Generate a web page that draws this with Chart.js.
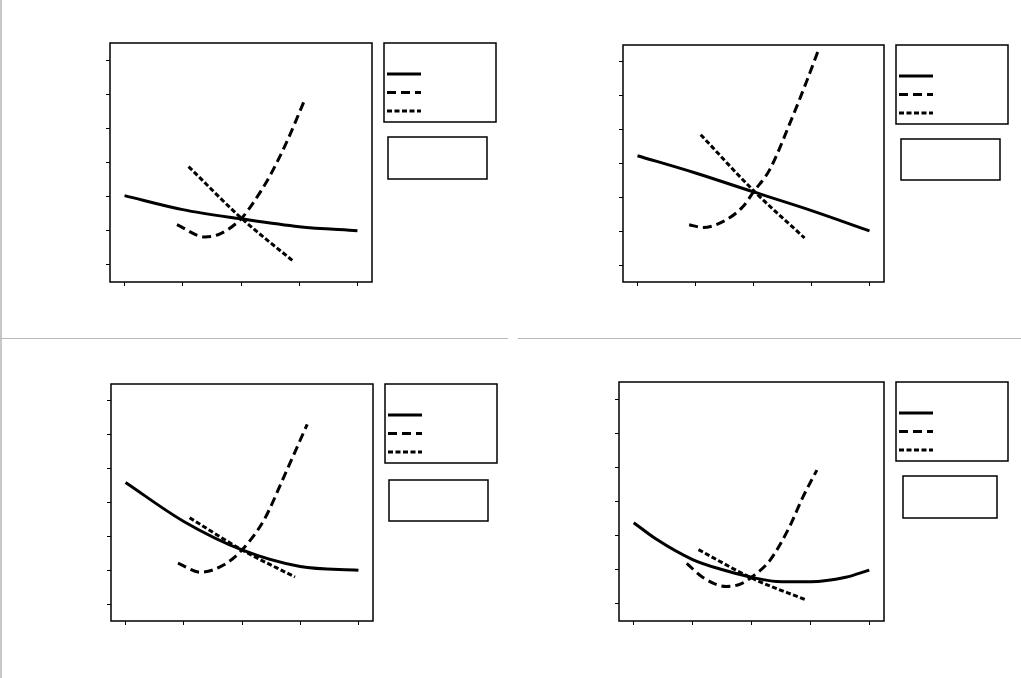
<!DOCTYPE html>
<html>
<head>
<meta charset="utf-8">
<script src="https://cdn.jsdelivr.net/npm/chart.js@4.4.1/dist/chart.umd.min.js"></script>
<style>
body { margin: 0; background: #fff; }
#wrap { position: relative; width: 1021px; height: 678px; overflow: hidden; }
canvas { position: absolute; }
.vline { position: absolute; left: 0; top: 0; width: 2px; height: 678px; background: #c8c8c8; }
.hline { position: absolute; top: 338px; height: 1px; background: #b8b8b8; }
</style>
</head>
<body>
<div id="wrap">
  <canvas id="c1" width="510" height="338" style="left:0;top:0"></canvas>
  <canvas id="c2" width="510" height="338" style="left:511px;top:0"></canvas>
  <canvas id="c3" width="510" height="339" style="left:0;top:339px"></canvas>
  <canvas id="c4" width="510" height="339" style="left:511px;top:339px"></canvas>
  <div class="vline"></div>
  <div class="hline" style="left:0;width:508px"></div>
  <div class="hline" style="left:518px;width:503px"></div>
</div>
<script>
// 目盛りの位置(ラベルは無し)
const xTicks = [0, 1, 2, 3, 4];
const yTicks = [0, 1, 2, 3, 4, 5, 6];

// パネル1(左上)
const solidX1 = [0, 1, 2, 3, 4];
const solidY1 = [2.03, 1.62, 1.35, 1.12, 1.0];
const longX1 = [0.9, 1.38, 1.64, 2, 2.21, 2.5, 2.79, 3.09];
const longY1 = [1.18, 0.82, 0.91, 1.35, 1.82, 2.62, 3.62, 4.82];
const shortX1 = [1.1, 2, 2.91];
const shortY1 = [2.88, 1.38, 0.09];

// パネル2(右上)
const solidX2 = [0, 1, 2, 3, 4];
const solidY2 = [3.23, 2.72, 2.16, 1.61, 1.01];
const longX2 = [0.89, 1.13, 1.48, 1.82, 2, 2.28, 2.63, 2.91, 3.13];
const longY2 = [1.19, 1.11, 1.29, 1.73, 2.16, 2.82, 4.2, 5.4, 6.4];
const shortX2 = [1.09, 2, 2.88];
const shortY2 = [3.85, 2.2, 0.8];

// パネル3(左下)
const solidX3 = [0, 1, 2, 3, 4];
const solidY3 = [3.59, 2.44, 1.6, 1.11, 1.0];
const longX3 = [0.9, 1.29, 1.69, 2, 2.38, 2.72, 3.12];
const longY3 = [1.21, 0.94, 1.16, 1.6, 2.49, 3.76, 5.31];
const shortX3 = [1.1, 2, 2.91];
const shortY3 = [2.55, 1.6, 0.8];

// パネル4(右下)
const solidX4 = [0, 0.38, 1, 1.51, 2, 2.42, 3, 3.6, 4];
const solidY4 = [2.38, 1.9, 1.3, 1.0, 0.78, 0.66, 0.65, 0.78, 0.99];
const longX4 = [0.9, 1.17, 1.57, 1.81, 2, 2.31, 2.64, 2.87, 3.11];
const longY4 = [1.19, 0.78, 0.51, 0.58, 0.78, 1.27, 2.24, 3.12, 3.92];
const shortX4 = [1.1, 2, 2.92];
const shortY4 = [1.59, 0.76, 0.12];

const LONG_DASH = [9, 5];
const SHORT_DASH = [5, 2.5];

function makeSet(xs, ys, dash) {
    return {
        label: '',
        data: xs.map((x, i) => ({ x: x, y: ys[i] })),
        borderColor: '#000',
        borderWidth: 3,
        borderDash: dash,
        pointRadius: 0,
        fill: false,
        cubicInterpolationMode: 'monotone'
    };
}

// 枠線と凡例の箱を描くプラグイン
const framePlugin = {
    id: 'frameBox',
    afterDraw(chart, args, opts) {
        const ctx = chart.ctx;
        const a = chart.chartArea;
        ctx.save();
        ctx.strokeStyle = '#000';
        ctx.lineWidth = 1.5;
        ctx.setLineDash([]);
        ctx.strokeRect(a.left, a.top, a.right - a.left, a.bottom - a.top);

        // 凡例
        const lx = a.right + 12, ly = a.top + opts.legendDy;
        ctx.strokeRect(lx, ly, 112, 79);
        const rows = [31, 49.5, 68];
        chart.data.datasets.forEach((ds, i) => {
            ctx.beginPath();
            ctx.lineWidth = ds.borderWidth;
            ctx.setLineDash(ds.borderDash || []);
            ctx.moveTo(lx + 3, ly + rows[i]);
            ctx.lineTo(lx + 37, ly + rows[i]);
            ctx.stroke();
        });

        // 下の空の箱
        ctx.setLineDash([]);
        ctx.lineWidth = 1.5;
        const b = opts.box2;
        ctx.strokeRect(lx + b[0], ly + b[1], b[2], b[3]);
        ctx.restore();
    }
};

function makeChart(id, sets, pad, legendDy, box2) {
    const axisGrid = { drawOnChartArea: false, drawTicks: true, tickLength: 4, color: '#000', lineWidth: 1 };
    return new Chart(document.getElementById(id), {
        type: 'line',
        data: { datasets: sets },
        options: {
            responsive: false,
            animation: false,
            layout: { padding: pad },
            plugins: {
                legend: { display: false },
                tooltip: { enabled: false },
                frameBox: { legendDy: legendDy, box2: box2 }
            },
            scales: {
                x: {
                    type: 'linear', min: -0.25, max: 4.25,
                    afterBuildTicks: s => { s.ticks = xTicks.map(v => ({ value: v })); },
                    afterFit: s => { s.height = 4; },
                    ticks: { display: false },
                    grid: axisGrid,
                    border: { display: false }
                },
                y: {
                    type: 'linear', min: -0.5, max: 6.5,
                    afterBuildTicks: s => { s.ticks = yTicks.map(v => ({ value: v })); },
                    afterFit: s => { s.width = 4; },
                    ticks: { display: false },
                    grid: axisGrid,
                    border: { display: false }
                }
            }
        },
        plugins: [framePlugin]
    });
}

const chart1 = makeChart('c1', [
    makeSet(solidX1, solidY1, []),
    makeSet(longX1, longY1, LONG_DASH),
    makeSet(shortX1, shortY1, SHORT_DASH)
], { left: 106, top: 43, right: 138, bottom: 52 }, 0, [4, 94, 99, 42]);

const chart2 = makeChart('c2', [
    makeSet(solidX2, solidY2, []),
    makeSet(longX2, longY2, LONG_DASH),
    makeSet(shortX2, shortY2, SHORT_DASH)
], { left: 108, top: 45, right: 137, bottom: 52 }, 0, [5, 94, 99, 41]);

const chart3 = makeChart('c3', [
    makeSet(solidX3, solidY3, []),
    makeSet(longX3, longY3, LONG_DASH),
    makeSet(shortX3, shortY3, SHORT_DASH)
], { left: 107, top: 45, right: 137, bottom: 53 }, 0, [4, 96, 99, 41]);

const chart4 = makeChart('c4', [
    makeSet(solidX4, solidY4, []),
    makeSet(longX4, longY4, LONG_DASH),
    makeSet(shortX4, shortY4, SHORT_DASH)
], { left: 104, top: 43, right: 137, bottom: 53 }, 0, [7, 94, 94, 42]);
</script>
</body>
</html>
